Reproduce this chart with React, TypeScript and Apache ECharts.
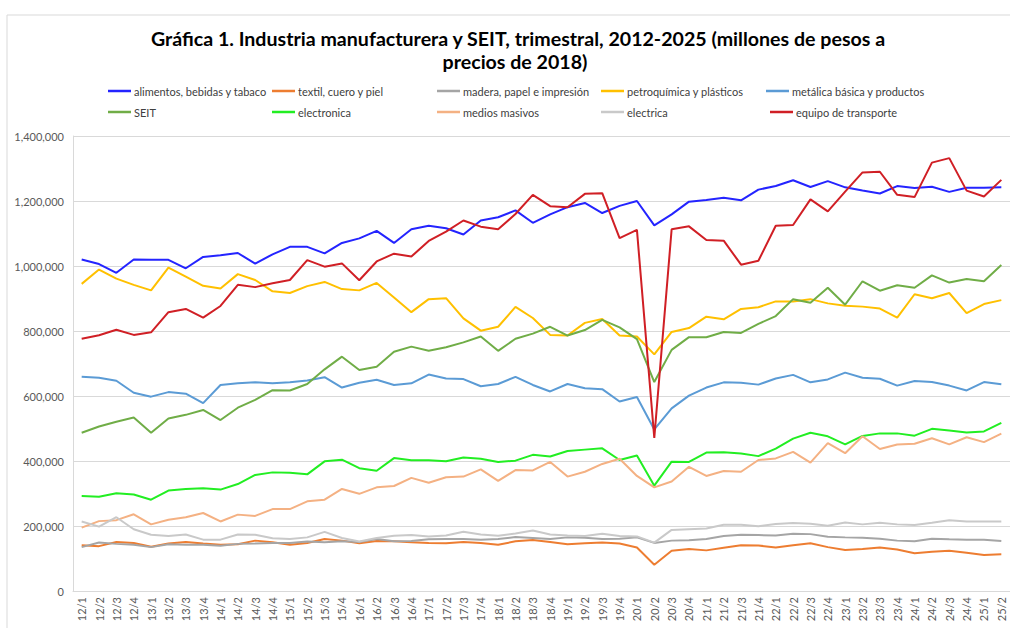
import React, { useEffect, useRef } from "react";
import * as echarts from "echarts";

const categories = [
  "12/1","12/2","12/3","12/4","13/1","13/2","13/3","13/4","14/1","14/2","14/3","14/4",
  "15/1","15/2","15/3","15/4","16/1","16/2","16/3","16/4","17/1","17/2","17/3","17/4",
  "18/1","18/2","18/3","18/4","19/1","19/2","19/3","19/4","20/1","20/2","20/3","20/4",
  "21/1","21/2","21/3","21/4","22/1","22/2","22/3","22/4","23/1","23/2","23/3","23/4",
  "24/1","24/2","24/3","24/4","25/1","25/2",
];

const yTicks = [0, 200000, 400000, 600000, 800000, 1000000, 1200000, 1400000];

const alimentos = [
  1020000,1006000,979000,1020000,1019000,1019000,993000,1028000,1033000,1040000,1007000,1036000,1059000,1059000,1039000,
  1071000,1085000,1108000,1071000,1113000,1124000,1116000,1097000,1140000,1150000,1171000,1133000,1159000,1181000,1194000,1163000,1185000,1200000,1125000,
  1159000,1198000,1203000,1210000,1202000,1235000,1246000,1264000,1243000,1261000,1242000,1232000,1223000,1246000,1240000,1244000,1228000,1241000,1241000,1242000,
];
const textil = [
  141000,138000,151000,148000,136000,146000,151000,146000,142000,144000,155000,150000,142000,148000,
  160000,155000,147000,154000,153000,150000,148000,147000,151000,148000,142000,153000,157000,
  151000,144000,147000,149000,146000,134000,81000,124000,129000,125000,133000,141000,140000,
  134000,141000,147000,135000,126000,129000,134000,128000,116000,121000,124000,118000,111000,113000,
];
const madera = [
  135000,149000,145000,142000,135000,144000,142000,142000,139000,145000,146000,148000,148000,152000,
  150000,153000,151000,160000,153000,154000,159000,160000,160000,158000,160000,166000,163000,
  160000,165000,164000,160000,161000,165000,148000,155000,156000,160000,169000,173000,172000,
  171000,176000,175000,167000,165000,164000,161000,155000,153000,161000,159000,158000,158000,154000,
];
const petroquimica = [
  945000,989000,961000,942000,925000,995000,967000,939000,931000,975000,957000,922000,917000,938000,951000,
  929000,925000,948000,903000,858000,898000,901000,839000,801000,813000,874000,840000,788000,786000,825000,837000,786000,783000,728000,
  797000,809000,844000,836000,868000,873000,891000,891000,898000,885000,878000,875000,869000,841000,913000,901000,917000,855000,883000,895000,
];
const metalica = [
  659000,656000,647000,610000,598000,612000,607000,578000,634000,639000,642000,639000,642000,648000,658000,
  626000,641000,650000,634000,639000,666000,654000,652000,630000,637000,659000,634000,614000,637000,624000,621000,583000,597000,497000,
  562000,601000,626000,642000,641000,635000,654000,665000,642000,651000,672000,656000,653000,632000,646000,643000,632000,617000,643000,636000,
];
const seit = [
  487000,506000,521000,534000,487000,531000,542000,557000,526000,564000,588000,618000,617000,637000,682000,
  721000,680000,690000,736000,752000,739000,750000,765000,783000,739000,776000,792000,813000,786000,803000,834000,811000,775000,643000,
  742000,781000,781000,797000,794000,822000,846000,898000,887000,933000,881000,953000,924000,941000,933000,971000,949000,960000,953000,1003000,
];
const electronica = [
  292000,290000,301000,297000,281000,309000,314000,316000,312000,329000,357000,365000,364000,359000,399000,
  404000,378000,370000,409000,402000,402000,399000,411000,407000,397000,401000,419000,414000,431000,435000,439000,403000,417000,324000,
  398000,397000,426000,427000,423000,415000,438000,469000,487000,476000,451000,477000,485000,485000,478000,499000,494000,488000,491000,517000,
];
const medios = [
  195000,215000,218000,236000,205000,219000,227000,240000,214000,235000,231000,252000,252000,276000,281000,
  314000,299000,319000,323000,348000,333000,350000,352000,374000,339000,372000,371000,397000,352000,367000,391000,407000,354000,319000,
  337000,382000,354000,369000,367000,403000,408000,428000,395000,455000,424000,476000,437000,451000,453000,470000,451000,473000,458000,484000,
];
const electrica = [
  214000,198000,227000,190000,173000,169000,174000,158000,158000,174000,173000,162000,160000,165000,
  182000,163000,152000,163000,170000,172000,168000,171000,182000,174000,170000,177000,186000,
  174000,171000,169000,176000,169000,168000,149000,188000,190000,192000,204000,204000,199000,
  206000,209000,207000,201000,211000,205000,210000,205000,203000,210000,218000,214000,214000,214000,
];
const transporte = [
  776000,787000,804000,788000,796000,858000,868000,841000,877000,942000,935000,947000,957000,1018000,998000,
  1008000,956000,1014000,1038000,1029000,1077000,1106000,1140000,1121000,1113000,1160000,1219000,1184000,1181000,1222000,1224000,1086000,1111000,471000,
  1113000,1122000,1080000,1078000,1004000,1016000,1124000,1126000,1205000,1168000,1229000,1288000,1290000,1219000,1212000,1318000,1332000,1232000,1214000,1265000,
];

const seriesNames = [
  "alimentos, bebidas y tabaco",
  "textil, cuero y piel",
  "madera, papel e impresión",
  "petroquímica y plásticos",
  "metálica básica y productos",
  "SEIT",
  "electronica",
  "medios masivos",
  "electrica",
  "equipo de transporte",
];
const seriesData = [alimentos, textil, madera, petroquimica, metalica, seit, electronica, medios, electrica, transporte];
const seriesColors = [
  "#2424FF", "#ED7D31", "#A5A5A5", "#FFC000", "#5B9BD5",
  "#70AD47", "#22EE22", "#F4B183", "#C9C9C9", "#D01F25",
];

const legendLeft = [108, 272, 437, 601, 766, 108, 272, 437, 601, 770];
const legendTop = [84, 84, 84, 84, 84, 105, 105, 105, 105, 105];

const FONT = "Lato, 'Open Sans', sans-serif";

export default function App() {
  const ref = useRef<HTMLDivElement>(null);
  useEffect(() => {
    if (!ref.current) return;
    const chart = echarts.init(ref.current, null, { renderer: "svg" });
    const option: any = {
      animation: false,
      backgroundColor: "#FFFFFF",
      textStyle: { fontFamily: FONT },
      graphic: [
        {
          type: "rect",
          shape: { x: 7, y: 15, width: 1020, height: 700 },
          style: { fill: "none", stroke: "#D9D9D9", lineWidth: 1 },
          silent: true,
        },
        {
          type: "text",
          x: 518,
          y: 38,
          style: {
            text: "Gráfica 1. Industria manufacturera y SEIT, trimestral, 2012-2025 (millones de pesos a",
            fontFamily: FONT,
            fontSize: 19.6,
            fontWeight: "bold",
            fill: "#000000",
            textAlign: "center",
            textVerticalAlign: "middle",
          },
        },
        {
          type: "text",
          x: 515,
          y: 61,
          style: {
            text: "precios de 2018)",
            fontFamily: FONT,
            fontSize: 19.6,
            fontWeight: "bold",
            fill: "#000000",
            textAlign: "center",
            textVerticalAlign: "middle",
          },
        },
      ],
      legend: seriesNames.map((n, i) => ({
        data: [n],
        left: legendLeft[i],
        top: legendTop[i],
        padding: 0,
        icon: "rect",
        itemWidth: 23,
        itemHeight: 2.5,
        selectedMode: false,
        textStyle: { fontFamily: FONT, fontSize: 11, color: "#404040", lineHeight: 14, padding: [0, 0, 0, -2] },
      })),
      grid: { left: 73, right: 0, top: 136, bottom: 37, containLabel: false },
      xAxis: {
        type: "category",
        data: categories,
        boundaryGap: true,
        axisLine: { show: true, lineStyle: { color: "#D9D9D9", width: 1 } },
        axisTick: { show: false },
        axisLabel: {
          interval: 0,
          rotate: 90,
          fontFamily: FONT,
          fontSize: 11,
          color: "#595959",
          margin: 6,
        },
      },
      yAxis: {
        type: "value",
        min: yTicks[0],
        max: yTicks[yTicks.length - 1],
        interval: yTicks[1] - yTicks[0],
        axisLine: { show: true, lineStyle: { color: "#D9D9D9", width: 1 } },
        axisTick: { show: false },
        splitLine: { show: true, lineStyle: { color: "#D9D9D9", width: 1 } },
        axisLabel: {
          fontFamily: FONT,
          fontSize: 11,
          color: "#595959",
          margin: 9,
          formatter: (v: number) => v.toLocaleString("en-US"),
        },
      },
      series: seriesNames.map((n, i) => ({
        name: n,
        type: "line",
        data: seriesData[i],
        symbol: "none",
        showSymbol: false,
        lineStyle: { color: seriesColors[i], width: 2 },
        itemStyle: { color: seriesColors[i] },
        emphasis: { disabled: true },
      })),
    };
    chart.setOption(option);
    return () => chart.dispose();
  }, []);
  return (
    <div
      ref={ref}
      style={{ position: "absolute", left: 0, top: 0, width: 1010, height: 628 }}
    />
  );
}
